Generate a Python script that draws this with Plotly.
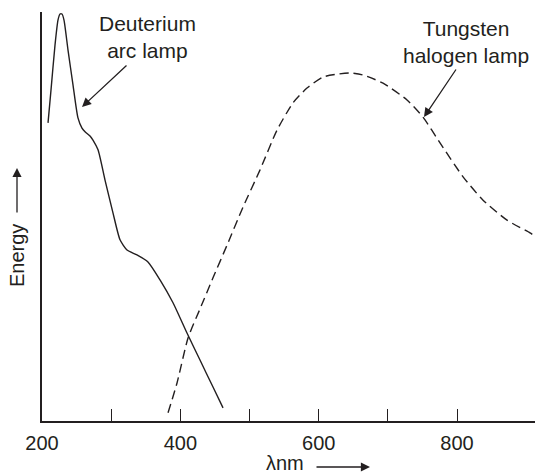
import plotly.graph_objects as go

# Deuterium arc lamp spectrum (wavelength nm, relative energy)
deut_wl = [208.7, 213, 218.8, 223.1, 226.0, 228.9, 231.8, 237.6, 244.8, 252.0, 257.8,
           262.2, 269.4, 273.7, 281, 291.1, 302.6, 312.8, 322.9, 337.3, 353.2, 370.6,
           389.4, 409.6, 428.4, 447.2, 461.7]
deut_en = [72.9, 80.9, 91.9, 98.0, 99.5, 99.5, 98.0, 90.7, 82.2, 74.1, 71.6,
           70.7, 69.7, 68.7, 66.3, 58.9, 50.9, 44.3, 41.8, 40.6, 38.9, 34.5,
           28.9, 21.5, 14.9, 8.3, 3.2]

# Tungsten halogen lamp spectrum
tung_wl = [382.2, 395.2, 411.1, 428.4, 447.2, 467.5, 490.6, 515.2, 539.7, 562.9, 583.1,
           606.2, 626.5, 645.3, 664.1, 693.0, 727.7, 750.8, 775.4, 808.7, 837.6, 872.3,
           905.5, 912.7]
tung_en = [2.0, 9.3, 20.3, 27.4, 35.0, 43.0, 52.3, 61.4, 71.1, 77.8, 81.4,
           84.1, 84.8, 85.1, 84.6, 82.6, 78.5, 74.3, 68.0, 59.7, 54.0, 49.1,
           46.0, 45.2]

tick_vals = [200, 300, 400, 500, 600, 700, 800]
tick_text = ["200", "", "400", "", "600", "", "800"]

INK = "#231f20"
FONT = "Liberation Sans, Arial, sans-serif"

fig = go.Figure()
fig.add_trace(go.Scatter(x=deut_wl, y=deut_en, mode="lines",
                         line=dict(color=INK, width=1.4, shape="spline", smoothing=0.6),
                         showlegend=False, hoverinfo="skip"))
fig.add_trace(go.Scatter(x=tung_wl, y=tung_en, mode="lines",
                         line=dict(color=INK, width=1.4, shape="spline", smoothing=0.6,
                                   dash="9px,5px"),
                         showlegend=False, hoverinfo="skip"))

fig.update_layout(
    width=535, height=475,
    margin=dict(l=42, r=0, t=12, b=54),
    paper_bgcolor="white", plot_bgcolor="white",
    font=dict(family=FONT, size=20, color=INK),
    xaxis=dict(range=[200, 912.7], showgrid=False, zeroline=False,
               showline=True, linecolor=INK, linewidth=1.5,
               tickmode="array", tickvals=tick_vals, ticktext=tick_text,
               ticks="inside", ticklen=12, tickwidth=1.3, tickcolor=INK,
               ticklabelstandoff=3,
               tickfont=dict(family=FONT, size=20, color=INK)),
    yaxis=dict(range=[0, 100], showgrid=False, zeroline=False,
               showline=True, linecolor=INK, linewidth=1.5,
               showticklabels=False, ticks=""),
)

def px2paper(px, py):
    return (px - 42) / 493.0, (421 - py) / 409.0

annots = []
# Deuterium label and arrow
x, y = px2paper(147, 37)
annots.append(dict(x=x, y=y, xref="paper", yref="paper", text="Deuterium<br>arc lamp",
                   showarrow=False, xanchor="center", yanchor="middle",
                   font=dict(size=21, color=INK, family=FONT)))
x, y = px2paper(82, 107)
annots.append(dict(x=x, y=y, xref="paper", yref="paper", text="", showarrow=True,
                   ax=46, ay=-43, arrowhead=2, arrowsize=1.4, arrowwidth=1.3, arrowcolor=INK))
# Tungsten label and arrow
x, y = px2paper(466, 42)
annots.append(dict(x=x, y=y, xref="paper", yref="paper", text="Tungsten<br>halogen lamp",
                   showarrow=False, xanchor="center", yanchor="middle",
                   font=dict(size=21, color=INK, family=FONT)))
x, y = px2paper(424, 117)
annots.append(dict(x=x, y=y, xref="paper", yref="paper", text="", showarrow=True,
                   ax=33, ay=-49, arrowhead=2, arrowsize=1.4, arrowwidth=1.3, arrowcolor=INK))
# Y axis title with arrow
x, y = px2paper(17, 256)
annots.append(dict(x=x, y=y, xref="paper", yref="paper", text="Energy", textangle=-90,
                   showarrow=False, xanchor="center", yanchor="middle",
                   font=dict(size=20, color=INK, family=FONT)))
x, y = px2paper(17, 168)
annots.append(dict(x=x, y=y, xref="paper", yref="paper", text="", showarrow=True,
                   ax=0, ay=46, arrowhead=2, arrowsize=1.4, arrowwidth=1.3, arrowcolor=INK))
# X axis title with arrow
x, y = px2paper(285, 463)
annots.append(dict(x=x, y=y, xref="paper", yref="paper", text="λnm",
                   showarrow=False, xanchor="center", yanchor="middle",
                   font=dict(size=20, color=INK, family=FONT)))
x, y = px2paper(370, 467)
annots.append(dict(x=x, y=y, xref="paper", yref="paper", text="", showarrow=True,
                   ax=-55, ay=0, arrowhead=2, arrowsize=1.4, arrowwidth=1.3, arrowcolor=INK))
fig.update_layout(annotations=annots)

fig.write_html("out.html")
